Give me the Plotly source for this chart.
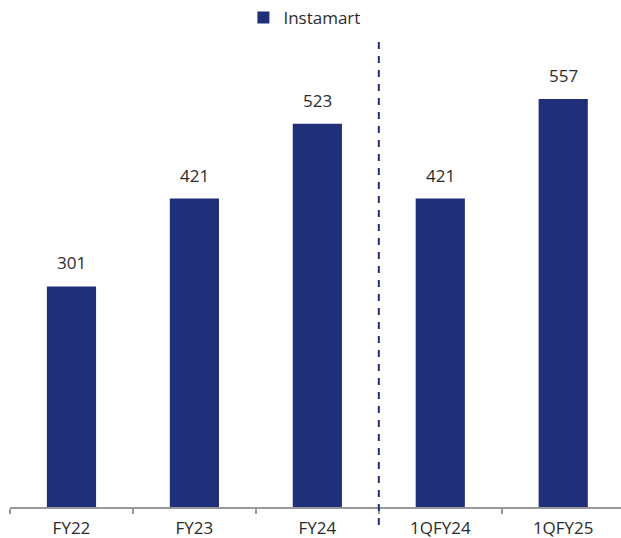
import plotly.graph_objects as go

# Instamart values by period
periods = ["FY22", "FY23", "FY24", "1QFY24", "1QFY25"]
instamart = [301, 421, 523, 421, 557]

BAR_COLOR = "#1f2f7a"
TEXT_COLOR = "#2b2b2b"
AXIS_COLOR = "#999999"
FONT = "Open Sans, Noto Sans, sans-serif"

fig = go.Figure()
fig.add_trace(go.Bar(
    x=periods,
    y=instamart,
    name="Instamart",
    marker=dict(color=BAR_COLOR, line=dict(width=0)),
    width=0.4,
    showlegend=True,
))

# value labels above each bar
for p, v in zip(periods, instamart):
    fig.add_annotation(
        x=p, y=v, text=str(v), showarrow=False,
        yanchor="bottom", yshift=10,
        font=dict(size=17, color=TEXT_COLOR, family=FONT),
    )

# divider between annual and quarterly figures
fig.add_shape(
    type="line", xref="x", yref="paper",
    x0=2.5, x1=2.5, y0=-0.0355, y1=0.917,
    line=dict(color=BAR_COLOR, width=2, dash="7px,7px"),
)

fig.update_layout(
    width=621, height=538,
    margin=dict(l=10, r=0, t=0, b=31),
    paper_bgcolor="white",
    plot_bgcolor="white",
    font=dict(family=FONT, size=17, color=TEXT_COLOR),
    showlegend=True,
    legend=dict(
        orientation="h",
        x=0.382, xanchor="left",
        y=1.0, yanchor="top",
        font=dict(size=17, color=TEXT_COLOR, family=FONT),
        itemwidth=30,
        bgcolor="rgba(0,0,0,0)",
    ),
    xaxis=dict(
        type="category",
        range=[-0.5, 4.47],
        automargin=False,
        showline=True, linecolor=AXIS_COLOR, linewidth=1.5,
        ticks="outside", ticklen=5, tickcolor=AXIS_COLOR, tickwidth=1.5,
        tickson="boundaries",
        ticklabelstandoff=5,
        showgrid=False,
        tickfont=dict(size=17, color=TEXT_COLOR, family=FONT),
    ),
    yaxis=dict(
        range=[0, 692],
        visible=False,
        showgrid=False,
        zeroline=False,
        automargin=False,
    ),
)

fig.write_html("out.html")
